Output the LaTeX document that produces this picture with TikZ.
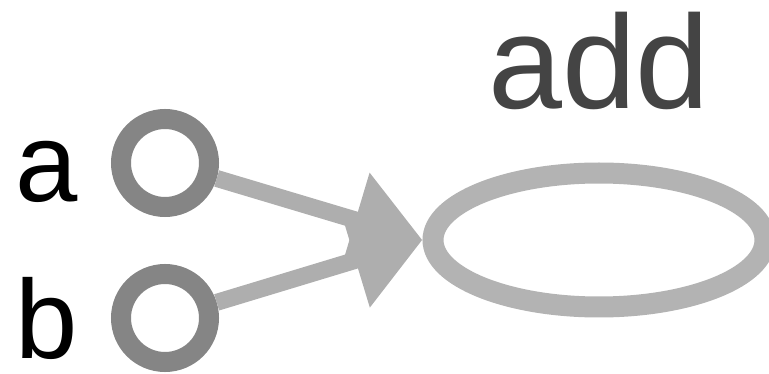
\documentclass[tikz,border=0pt]{standalone}
\usepackage{fontspec}
\setmainfont{Liberation Sans}
\usetikzlibrary{shapes.geometric,arrows.meta}
\definecolor{portgray}{HTML}{858585}
\definecolor{edgegray}{HTML}{AEAEAE}
\definecolor{opgray}{HTML}{B3B3B3}
\definecolor{titlegray}{HTML}{444444}
\tikzset{
  port/.style={circle,draw=portgray,fill=white,line width=20pt,minimum size=88pt,inner sep=0pt},
  opnode/.style={ellipse,draw=opgray,fill=white,line width=21pt,minimum width=332pt,minimum height=134pt,inner sep=0pt},
  conn/.style={draw=edgegray,line width=17pt,-{Triangle[length=70pt,width=94pt,fill=edgegray]}},
  portlabel/.style={anchor=base,inner sep=0pt,font=\fontsize{112}{114}\selectfont,text=black},
  titlelabel/.style={anchor=base,inner sep=0pt,font=\fontsize{133}{135}\selectfont,text=titlegray}
}
\begin{document}
\begin{tikzpicture}[x=1pt,y=-1pt]
\useasboundingbox (0,0) rectangle (769,374);
\node[opnode] (op) at (599,240) {};
\node[port] (a) at (165,163) {};
\node[port] (b) at (165,318) {};
\node[portlabel] (la) at (47,202) {a};
\node[portlabel] (lb) at (47,358) {b};
\node[titlelabel] (title) at (599,109) {add};
\draw[conn] (a) -- (op.west);
\draw[conn] (b) -- (op.west);
\end{tikzpicture}
\end{document}
